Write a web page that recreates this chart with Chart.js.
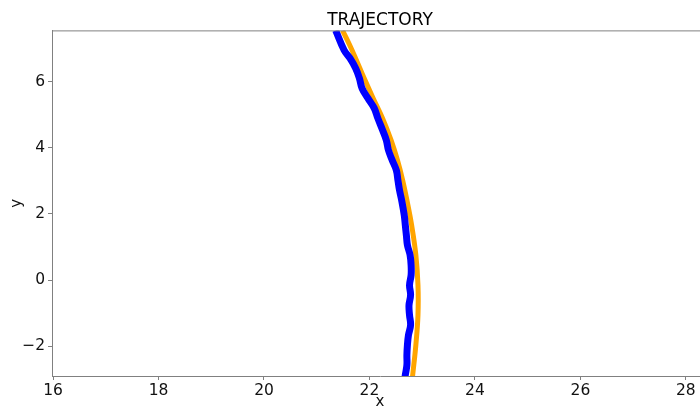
<!DOCTYPE html>
<html>
<head>
<meta charset="utf-8">
<script src="https://cdn.jsdelivr.net/npm/chart.js@4"></script>
<style>
html,body{margin:0;padding:0;background:#fff;overflow:hidden;width:700px;height:407px;}
#wrap{width:760px;height:407px;}
</style>
</head>
<body>
<div id="wrap"><canvas id="c" width="760" height="407"></canvas></div>
<script>
// Reference trajectory (orange)
const refX = [21.49, 21.67, 21.90, 22.07, 22.25, 22.41, 22.53, 22.63, 22.71, 22.80, 22.88, 22.92, 22.92, 22.88, 22.82, 22.81];
const refY = [7.55, 6.95, 6.10, 5.50, 4.89, 4.23, 3.63, 3.02, 2.42, 1.66, 0.76, -0.15, -1.06, -1.96, -2.87, -3.0];
// Actual trajectory (blue)
const actX = [21.36, 21.52, 21.63, 21.74, 21.81, 21.86, 21.97, 22.09, 22.16, 22.25, 22.32, 22.36, 22.43, 22.51, 22.54, 22.57, 22.61, 22.66, 22.68, 22.70, 22.72, 22.77, 22.79, 22.79, 22.76, 22.78, 22.75, 22.76, 22.78, 22.74, 22.72, 22.71, 22.71, 22.68, 22.67];
const actY = [7.55, 6.95, 6.71, 6.40, 6.10, 5.80, 5.50, 5.20, 4.89, 4.53, 4.23, 3.93, 3.63, 3.32, 3.02, 2.72, 2.42, 1.96, 1.66, 1.36, 1.06, 0.76, 0.45, 0.15, -0.15, -0.45, -0.76, -1.06, -1.36, -1.66, -1.96, -2.27, -2.57, -2.87, -3.0];
const xTicks = [16, 18, 20, 22, 24, 26, 28];
const yTicks = [-2, 0, 2, 4, 6];

const toPts = (xs, ys) => xs.map((x, i) => ({x: x, y: ys[i]}));

const frame = {
  id: 'frame',
  afterDatasetsDraw(chart) {
    const {ctx, chartArea: a} = chart;
    ctx.save();
    ctx.strokeStyle = '#808080';
    ctx.lineWidth = 1;
    ctx.beginPath();
    ctx.moveTo(a.left, a.top + 0.5);
    ctx.lineTo(a.right, a.top + 0.5);
    ctx.lineTo(a.right - 0.5, a.bottom);
    ctx.stroke();
    ctx.restore();
  }
};

const FONT = 'DejaVu Sans';
new Chart(document.getElementById('c'), {
  type: 'scatter',
  data: {
    datasets: [
      {
        label: 'actual',
        data: toPts(actX, actY),
        showLine: true,
        borderColor: '#0000ff',
        backgroundColor: '#0000ff',
        borderWidth: 7,
        pointRadius: 0,
        tension: 0.4,
        order: 1
      },
      {
        label: 'reference',
        data: toPts(refX, refY),
        showLine: true,
        borderColor: '#ffa500',
        backgroundColor: '#ffa500',
        borderWidth: 5,
        pointRadius: 0,
        tension: 0.4,
        order: 2
      }
    ]
  },
  options: {
    responsive: false,
    animation: false,
    clip: true,
    layout: {padding: {left: 0, right: 52, top: 0, bottom: 0}},
    plugins: {
      legend: {display: false},
      tooltip: {enabled: false},
      title: {
        display: true,
        fullSize: false,
        text: 'TRAJECTORY',
        color: '#000',
        font: {family: FONT, size: 17, weight: 'normal'},
        padding: {top: 10, bottom: 0}
      }
    },
    scales: {
      x: {
        type: 'linear',
        min: 15.98,
        max: 28.42,
        afterBuildTicks: s => { s.ticks = xTicks.map(v => ({value: v})); },
        afterFit: s => { s.height = 31; },
        grid: {drawOnChartArea: false, drawTicks: true, tickLength: 4, color: '#808080'},
        border: {display: true, color: '#808080'},
        ticks: {color: '#111', font: {family: FONT, size: 15.5}, padding: 2, maxRotation: 0},
        title: {display: true, text: 'x', color: '#111', font: {family: FONT, size: 15}, padding: {top: 0, bottom: -4}}
      },
      y: {
        type: 'linear',
        min: -2.90,
        max: 7.55,
        afterBuildTicks: s => { s.ticks = yTicks.map(v => ({value: v})); },
        afterFit: s => { s.width = 52; },
        grid: {drawOnChartArea: false, drawTicks: true, tickLength: 4, color: '#808080'},
        border: {display: true, color: '#808080'},
        ticks: {color: '#111', font: {family: FONT, size: 15.5}, padding: 3,
          callback: v => (v < 0 ? '\u2212' + Math.abs(v) : String(v))},
        title: {display: true, text: 'y', color: '#111', font: {family: FONT, size: 15}, padding: {top: 8, bottom: 0}}
      }
    }
  },
  plugins: [frame]
});
</script>
</body>
</html>
